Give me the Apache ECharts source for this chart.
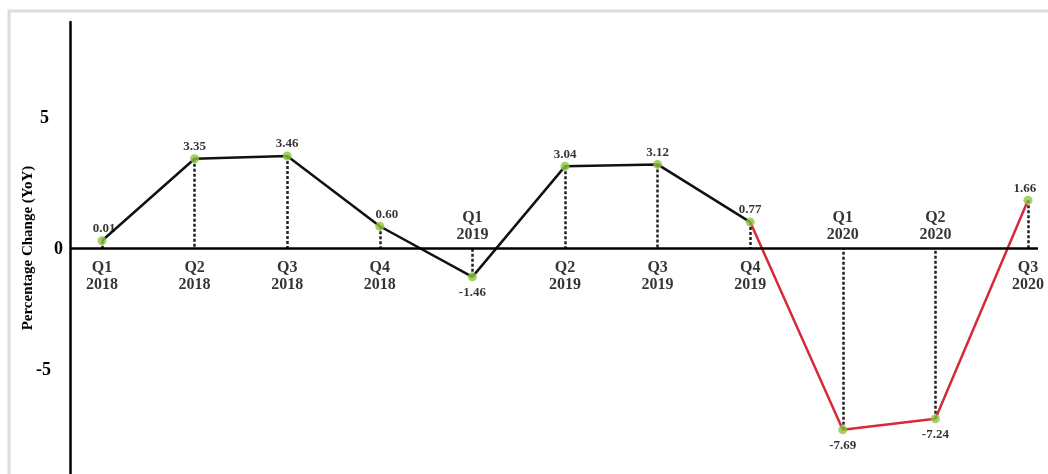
<!DOCTYPE html>
<html>
<head>
<meta charset="utf-8">
<script src="https://cdn.jsdelivr.net/npm/echarts@6/dist/echarts.min.js"></script>
<style>
  html, body { margin: 0; padding: 0; background: #fff; }
  #chart { width: 1048px; height: 474px; }
</style>
</head>
<body>
<div id="chart"></div>
<script>
// ---- data ----
const quarters = ['Q1', 'Q2', 'Q3', 'Q4', 'Q1', 'Q2', 'Q3', 'Q4', 'Q1', 'Q2', 'Q3'];
const years = ['2018', '2018', '2018', '2018', '2019', '2019', '2019', '2019', '2020', '2020', '2020'];
const values = [0.01, 3.35, 3.46, 0.60, -1.46, 3.04, 3.12, 0.77, -7.69, -7.24, 1.66];
const yTickLabels = [-5, 0, 5];
const redStart = 7;          // index where the red (2020) segment begins
const baseline = -0.28;      // where the picture draws its horizontal axis line

const FONT = 'Liberation Serif';
const chart = echarts.init(document.getElementById('chart'), null, { renderer: 'canvas' });

const pts = values.map((v, i) => [i, v]);
const blackData = pts.slice(0, redStart + 1);
const redData = pts.slice(redStart);

const labelOffsets = { 0: [2, 0], 3: [7, 0], 10: [-3, 0] };

const pointData = pts.map((p, i) => ({
  value: p,
  label: p[1] >= 0
    ? { position: 'top', distance: 1, offset: labelOffsets[i] || [0, 0] }
    : { position: 'bottom', distance: 5, offset: labelOffsets[i] || [0, 0] }
}));

const catData = values.map((v, i) => ({
  value: [i, baseline],
  label: v >= 0
    ? { position: 'bottom', distance: 11 }
    : { position: 'top', distance: 4 }
}));

const dashLines = pts.map(p => [
  { coord: [p[0], p[1]] },
  { coord: [p[0], baseline] }
]);

const option = {
  animation: false,
  textStyle: { fontFamily: FONT },
  grid: { left: 70, right: 10, top: 22, bottom: 0, containLabel: false },
  graphic: [{
    type: 'rect',
    silent: true,
    z: -10,
    shape: { x: 9, y: 11, width: 1200, height: 700 },
    style: { fill: 'none', stroke: '#dcdcdc', lineWidth: 3 }
  }],
  xAxis: {
    type: 'value',
    min: -0.3456,
    max: 10.108,
    show: false
  },
  yAxis: {
    type: 'value',
    min: -9.49,
    max: 8.92,
    splitNumber: 4,
    name: 'Percentage Change (YoY)',
    nameLocation: 'middle',
    nameGap: 34,
    nameMoveOverlap: false,
    nameTextStyle: { fontFamily: FONT, fontSize: 15, fontWeight: 'bold', color: '#000' },
    axisLine: { show: true, onZero: false, lineStyle: { color: '#000', width: 2.5 } },
    axisTick: { show: false },
    splitLine: { show: false },
    axisLabel: {
      margin: 7,
      showMinLabel: false,
      showMaxLabel: false,
      formatter: function (v) {
        const r = Math.round(v);
        if (Math.abs(v - r) > 1e-6 || yTickLabels.indexOf(r) < 0) return '';
        if (r === 0) return '{z|0}';
        if (r > 0) return '{p|' + r + '}';
        return '{m|' + r + '}';
      },
      rich: {
        p: { fontFamily: FONT, fontSize: 18, fontWeight: 'bold', color: '#000', padding: [0, 14, 0, 0] },
        m: { fontFamily: FONT, fontSize: 18, fontWeight: 'bold', color: '#000', padding: [14, 12, 0, 0] },
        z: { fontFamily: FONT, fontSize: 18, fontWeight: 'bold', color: '#000', padding: [16, 0, 0, 0] }
      }
    }
  },
  series: [
    {
      name: 'guides',
      type: 'scatter',
      data: [],
      z: 1,
      silent: true,
      markLine: {
        silent: true,
        symbol: ['none', 'none'],
        label: { show: false },
        animation: false,
        lineStyle: { color: '#222', width: 2.5, type: [3, 2] },
        data: dashLines.concat([
          { yAxis: baseline, lineStyle: { color: '#000', width: 2.5, type: 'solid' } }
        ])
      }
    },
    {
      name: 'pre2020',
      type: 'line',
      data: blackData,
      z: 3,
      showSymbol: false,
      silent: true,
      lineStyle: { color: '#111', width: 2.5 }
    },
    {
      name: '2020',
      type: 'line',
      data: redData,
      z: 3,
      showSymbol: false,
      silent: true,
      lineStyle: { color: '#d42a3a', width: 2.5 }
    },
    {
      name: 'points',
      type: 'scatter',
      data: pointData,
      z: 5,
      symbolSize: 9,
      itemStyle: { color: '#8cc63f' },
      label: {
        show: true,
        fontFamily: FONT,
        fontSize: 13,
        fontWeight: 'bold',
        color: '#000',
        formatter: p => values[p.dataIndex].toFixed(2)
      }
    },
    {
      name: 'categories',
      type: 'scatter',
      data: catData,
      z: 4,
      symbolSize: 1,
      itemStyle: { color: 'rgba(0,0,0,0)' },
      silent: true,
      label: {
        show: true,
        fontFamily: FONT,
        fontSize: 16,
        fontWeight: 'bold',
        lineHeight: 17,
        color: '#000',
        align: 'center',
        formatter: p => quarters[p.dataIndex] + '\n' + years[p.dataIndex]
      }
    }
  ]
};
chart.setOption(option);
</script>
</body>
</html>
